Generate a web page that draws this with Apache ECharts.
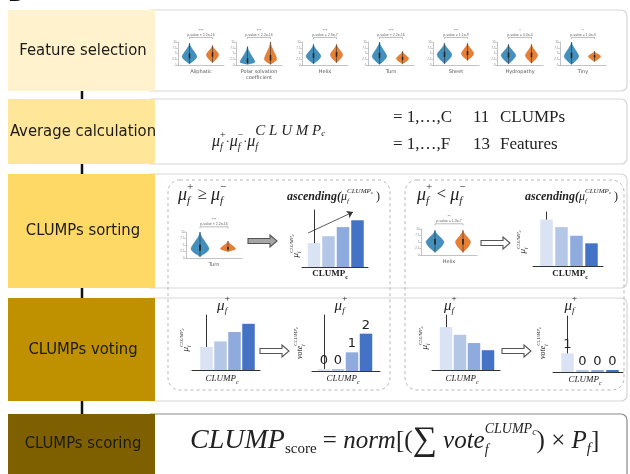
<!DOCTYPE html>
<html>
<head>
<meta charset="utf-8">
<script src="https://cdn.jsdelivr.net/npm/echarts@6.0.0/dist/echarts.min.js"></script>
<style>
  html, body { margin: 0; padding: 0; background: #fff; }
  #chart { width: 630px; height: 474px; }
</style>
</head>
<body>
<div id="chart"></div>
<script>
// ---- data ----
const steps = ['Feature selection', 'Average calculation', 'CLUMPs sorting', 'CLUMPs voting', 'CLUMPs scoring'];
const stepColors = ['#fff2cc', '#ffe699', '#ffd966', '#bf9000', '#7f6000'];

const features = ['Aliphatic', 'Polar solvation\ncoefficient', 'Helix', 'Turn', 'Sheet', 'Hydropathy', 'Tiny'];
// violin summaries [min, median, max] (positive / negative group)
const featPos = [[0.5, 3.6, 9.5], [0.3, 1.2, 8], [0.5, 3.8, 9], [0.3, 3.8, 10], [0.5, 4.5, 9.5], [0.5, 4.2, 9], [0.3, 3.8, 10]];
const featNeg = [[1, 4.5, 8.5], [0.3, 2.5, 10], [1, 4.5, 9], [0.5, 2.8, 6], [2, 5, 9.5], [0.8, 4.2, 9], [1.5, 3.8, 6]];
const featP = ['p-value < 2.2e-16', 'p-value < 2.2e-16', 'p-value = 2.3e-7', 'p-value < 2.2e-16', 'p-value = 1.1e-9', 'p-value = 4.0e-4', 'p-value = 1.0e-3'];
const featStars = ['***', '***', '***', '***', '***', '*', '*'];

const sortFeatures = ['Turn', 'Helix'];
const sortPos = [[0.5, 3.5, 10], [1, 5, 9.5]];
const sortNeg = [[2.5, 3.5, 6.5], [1, 5, 9.5]];
const sortP = ['p-value < 2.2e-16', 'p-value = 1.3e-7'];
const sortStars = ['***', '**'];

const meanUp = [2.1, 2.7, 3.5, 4.1];
const meanDown = [4.3, 3.6, 2.8, 2.1];
const voteMeanUp = [2.1, 2.6, 3.45, 4.2];
const voteMeanDown = [3.9, 3.2, 2.45, 1.8];
const votesUp = [0, 0, 1, 2];
const votesDown = [1, 0, 0, 0];
const cutUp = [1.4, 1.4];     // position of mu+ among the CLUMPs
const cutDown = [0.5, 0.4];

// ---- style ----
const SERIF = '"Liberation Serif", "DejaVu Serif", serif';
const SANS = '"DejaVu Sans", sans-serif';
const BLUES = ['#dae3f3', '#b4c7e7', '#8faadc', '#4472c4'];
const BLUE = '#4290bb', ORANGE = '#e87f33';
const RED = '#e5262a';

const mctx = document.createElement('canvas').getContext('2d');

// lays out small maths pieces: [text, size, dy, flags] (i italic, b bold, k keep x for stacking)
function mathText(x, y, parts, align) {
  const items = [];
  let cx = 0, stackW = 0;
  parts.forEach(([t, size, dy, flags = '']) => {
    const fontStyle = flags.includes('i') ? 'italic' : 'normal';
    const fontWeight = flags.includes('b') ? 'bold' : 'normal';
    mctx.font = fontStyle + ' ' + fontWeight + ' ' + size + 'px "Liberation Serif"';
    const w = mctx.measureText(t).width;
    items.push({ t, size, dy, fontStyle, fontWeight, x: cx });
    if (flags.includes('k')) stackW = Math.max(stackW, w);
    else { cx += Math.max(w, stackW); stackW = 0; }
  });
  const off = align === 'center' ? -cx / 2 : 0;
  return items.map(it => ({
    type: 'text', x: x + off + it.x, y: y + it.dy, z: 20,
    style: {
      text: it.t, fontSize: it.size, fontFamily: SERIF, fontStyle: it.fontStyle, fontWeight: it.fontWeight,
      fill: '#222', align: 'left', textAlign: 'left', verticalAlign: 'middle', textVerticalAlign: 'middle'
    }
  }));
}

function rotated(x, y, parts) {
  return { type: 'group', x, y, rotation: Math.PI / 2, z: 20, children: mathText(0, 0, parts, 'center') };
}

function hollowArrow(x0, x1, y, fill) {
  return {
    type: 'polygon', z: 20,
    shape: { points: [[x0, y - 2.5], [x1 - 7, y - 2.5], [x1 - 7, y - 6], [x1, y], [x1 - 7, y + 6], [x1 - 7, y + 2.5], [x0, y + 2.5]] },
    style: { fill, stroke: '#555', lineWidth: 1.1 }
  };
}

// ---- series builders ----
const grids = [], xAxis = [], yAxis = [], series = [];

function violinItem(params, api) {
  const cat = api.value(0);
  const c = api.coord([cat, api.value(2)]);
  const top = api.coord([cat, api.value(3)])[1];
  const bot = api.coord([cat, api.value(1)])[1];
  const w = api.size([1, 0])[0] * (cat === 0 ? 0.32 : 0.27);
  const up = c[1] - top, dn = bot - c[1];
  const prof = [[0, -up], [0.12, -up * 0.8], [0.4, -up * 0.55], [0.85, -up * 0.2], [1, 0], [0.8, dn * 0.35], [0.4, dn * 0.7], [0.1, dn * 0.92], [0, dn]];
  const pts = prof.map(p => [c[0] + p[0] * w, c[1] + p[1]])
    .concat(prof.slice(1, -1).reverse().map(p => [c[0] - p[0] * w, c[1] + p[1]]));
  return {
    type: 'group', children: [
      { type: 'polygon', shape: { points: pts, smooth: 0.35 }, style: { fill: cat === 0 ? BLUE : ORANGE, stroke: cat === 0 ? '#2d6f96' : '#b95a1c', lineWidth: 0.3 } },
      { type: 'line', shape: { x1: c[0], y1: top, x2: c[0], y2: bot }, style: { stroke: '#333', lineWidth: 0.6 } },
      { type: 'rect', shape: { x: c[0] - 0.8, y: c[1] - up * 0.25, width: 1.6, height: (up + dn) * 0.25 }, style: { fill: '#222' } }
    ]
  };
}

function bracket(label, star) {
  return (params, api) => {
    const a = api.coord([0, 12]), b = api.coord([1, 12]);
    const mx = (a[0] + b[0]) / 2;
    return {
      type: 'group', children: [
        { type: 'polyline', shape: { points: [[a[0], a[1] + 1.5], a, b, [b[0], b[1] + 1.5]] }, style: { stroke: '#777', lineWidth: 0.5, fill: null } },
        { type: 'text', x: mx, y: a[1] - 0.6, style: { text: label, fontSize: 3.5, fill: '#666', align: 'center', textAlign: 'center', verticalAlign: 'bottom', textVerticalAlign: 'bottom' } },
        { type: 'text', x: mx, y: a[1] - 5, style: { text: star, fontSize: 4, fill: '#666', align: 'center', textAlign: 'center', verticalAlign: 'bottom', textVerticalAlign: 'bottom' } }
      ]
    };
  };
}

function violinPlot(box, name, pos, neg, pText, star) {
  const g = grids.length;
  grids.push({ left: box[0], top: box[1], width: box[2], height: box[3], outerBoundsMode: 'none' });
  xAxis.push({
    gridIndex: g, type: 'category', data: ['+', '-'],
    axisLine: { lineStyle: { color: '#9a9a9a', width: 0.6 } }, axisTick: { show: false }, axisLabel: { show: false },
    name, nameLocation: 'middle', nameGap: 4,
    nameTextStyle: { fontSize: 5, color: '#555', lineHeight: 5.5, fontFamily: SANS }
  });
  yAxis.push({
    gridIndex: g, type: 'value', min: 0, max: 10, interval: 2.5,
    axisLine: { show: true, lineStyle: { color: '#9a9a9a', width: 0.6 } },
    axisTick: { show: true, length: 1.5, lineStyle: { width: 0.5 } },
    axisLabel: { fontSize: 3, color: '#888', margin: 1.5 }, splitLine: { show: false }
  });
  series.push({ type: 'custom', xAxisIndex: g, yAxisIndex: g, silent: true, renderItem: violinItem, data: [[0, ...pos], [1, ...neg]] });
  series.push({ type: 'custom', xAxisIndex: g, yAxisIndex: g, silent: true, renderItem: bracket(pText, star), data: [[0, 0]] });
}

// spec: axis x, first bar centre, spacing, right end, top, bottom
function barPlot(s) {
  const g = grids.length;
  grids.push({ left: s.ax, top: s.top, width: s.right - s.ax, height: s.bottom - s.top, outerBoundsMode: 'none' });
  xAxis.push({
    gridIndex: g, type: 'value', min: -(s.c0 - s.ax) / s.step, max: (s.right - s.c0) / s.step,
    axisLine: { onZero: false, lineStyle: { color: '#333', width: 1 } }, axisTick: { show: false }, axisLabel: { show: false }, splitLine: { show: false }
  });
  yAxis.push({
    gridIndex: g, type: 'value', min: 0, max: s.max,
    axisLine: { show: true, lineStyle: { color: '#333', width: 1 } }, axisTick: { show: false }, axisLabel: { show: false }, splitLine: { show: false }
  });
  const marks = [];
  if (s.cut != null) marks.push([{ coord: [s.cut, 0], lineStyle: { color: RED, width: 2, type: [5, 3] } }, { coord: [s.cut, s.max * 1.06] }]);
  if (s.trend) marks.push([{ coord: s.trend[0], lineStyle: { color: '#333', width: 0.8, type: 'solid' } }, { coord: s.trend[1] }]);
  series.push({
    type: 'bar', xAxisIndex: g, yAxisIndex: g, barWidth: 12.5, barMinHeight: s.labels ? 2 : 0, clip: false, silent: true,
    data: s.data.map((v, i) => ({ value: [i, v], itemStyle: { color: BLUES[i] } })),
    label: { show: !!s.labels, position: 'top', distance: 2, fontSize: 13, color: '#222', fontFamily: SANS, formatter: p => p.value[1] },
    markLine: { silent: true, symbol: ['none', 'arrow'], symbolSize: 6, label: { show: false }, animation: false, data: marks }
  });
}

// ---- build ----
const featLeft = [178, 236, 302, 368, 433, 497, 560];
features.forEach((f, i) => violinPlot([featLeft[i], 42, 46, 23], f, featPos[i], featNeg[i], featP[i], featStars[i]));
violinPlot([186, 232, 56, 26], sortFeatures[0], sortPos[0], sortNeg[0], sortP[0], sortStars[0]);
violinPlot([421, 229, 56, 26], sortFeatures[1], sortPos[1], sortNeg[1], sortP[1], sortStars[1]);

const bars = [
  { ax: 302, c0: 314, step: 14.5, right: 368, top: 210, bottom: 267, max: 5, data: meanUp, trend: [[-0.41, 2.98], [2.69, 4.82]] },
  { ax: 533, c0: 546.5, step: 15, right: 603, top: 212, bottom: 266, max: 5, data: meanDown, trend: [[0.1, 5.19], [3.23, 3.15]] },
  { ax: 192, c0: 206.5, step: 14, right: 260, top: 315, bottom: 370, max: 5, data: voteMeanUp, cut: cutUp[0] },
  { ax: 312, c0: 324, step: 14, right: 380, top: 315, bottom: 371, max: 3, data: votesUp, cut: cutUp[1], labels: true },
  { ax: 432, c0: 446, step: 14, right: 500, top: 315, bottom: 370, max: 5, data: voteMeanDown, cut: cutDown[0] },
  { ax: 553, c0: 567.5, step: 15, right: 623, top: 316, bottom: 372, max: 3, data: votesDown, cut: cutDown[1], labels: true }
];
bars.forEach(barPlot);

// ---- frame ----
const rows = [[10, 91], [99, 164], [174, 288], [298, 401], [414, 490]];
const elements = [];
elements.push({ type: 'text', x: 8, y: -14, style: { text: 'B', fontSize: 20, fontWeight: 'bold', fontFamily: SANS, fill: '#111', verticalAlign: 'top', textVerticalAlign: 'top' } });
rows.forEach(([y0, y1], i) => {
  elements.push({ type: 'rect', z: -2, shape: { x: 150, y: y0, width: 477, height: y1 - y0, r: [0, 6, 6, 0] },
    style: { fill: '#fff', stroke: i === 4 ? '#8a8a8a' : '#d6d6d6', lineWidth: 1.2 } });
  elements.push({ type: 'rect', z: -1, shape: { x: 8, y: y0, width: 147, height: y1 - y0 }, style: { fill: stepColors[i] } });
  elements.push({ type: 'text', z: 5, x: 83, y: i === 4 ? 444 : (y0 + y1) / 2,
    style: { text: steps[i], fontSize: 16.5, fontFamily: '"DejaVu Sans Condensed", "DejaVu Sans", sans-serif', fill: '#1a1a1a',
      align: 'center', textAlign: 'center', verticalAlign: 'middle', textVerticalAlign: 'middle' } });
  if (i < rows.length - 1) elements.push({ type: 'line', z: 5, shape: { x1: 82, y1: y1, x2: 82, y2: rows[i + 1][0] }, style: { stroke: '#111', lineWidth: 2.5 } });
});
// dashed groups
elements.push({ type: 'rect', z: 1, shape: { x: 168, y: 180, width: 222, height: 210, r: 12 }, style: { fill: 'none', stroke: '#b5b5b5', lineWidth: 1, lineDash: [3, 3] } });
elements.push({ type: 'rect', z: 1, shape: { x: 405, y: 180, width: 219, height: 210, r: 12 }, style: { fill: 'none', stroke: '#b5b5b5', lineWidth: 1, lineDash: [3, 3] } });

// average calculation
elements.push(...mathText(212, 142, [
  ['μ', 16, 0, 'i'], ['+', 10, -7, 'k'], ['f', 10, 5, 'i'], ['·', 12, 0],
  ['μ', 16, 0, 'i'], ['−', 10, -7, 'k'], ['f', 10, 5, 'i'], ['·', 12, 0],
  ['μ', 16, 0, 'i'], ['C L U M P', 15, -11, 'ik'], ['f', 10, 5, 'i'], ['c', 9, -8, 'i']
]));
[['= 1,…,C', '11', 'CLUMPs', 118], ['= 1,…,F', '13', 'Features', 145]].forEach(([a, b, c, y]) => {
  elements.push(...mathText(393, y, [[a, 17, 0]]), ...mathText(473, y, [[b, 17, 0]]), ...mathText(500, y, [[c, 17, 0]]));
});

// sorting
const ascParts = [['ascending(', 12, 0, 'bi'], ['μ', 12, 0, 'i'], ['CLUMP', 7, -6, 'ik'], ['f', 7, 4, 'i'], ['c', 5, -4, 'i'], [' )', 12, 0]];
elements.push(...mathText(178, 195, [['μ', 18, 0, 'i'], ['+', 11, -8, 'k'], ['f', 11, 6, 'i'], [' ≥ ', 17, 0], ['μ', 18, 0, 'i'], ['−', 11, -8, 'k'], ['f', 11, 6, 'i']]));
elements.push(...mathText(417, 195, [['μ', 18, 0, 'i'], ['+', 11, -8, 'k'], ['f', 11, 6, 'i'], [' < ', 17, 0], ['μ', 18, 0, 'i'], ['−', 11, -8, 'k'], ['f', 11, 6, 'i']]));
elements.push(...mathText(287, 197, ascParts), ...mathText(525, 197, ascParts));
elements.push(hollowArrow(248, 277, 241, '#a6a6a6'), hollowArrow(481, 510, 243, '#fff'));
elements.push(hollowArrow(260, 289, 351, '#fff'), hollowArrow(502, 531, 351, '#fff'));

// axis titles of the small bar charts
const muY = [['μ', 9, 0, 'i'], ['CLUMP', 5, -4, 'ik'], ['f', 5, 3, 'i'], ['c', 4, -3, 'i']];
const voteY = [['vote', 8, 0, 'i'], ['CLUMP', 5, -4, 'ik'], ['f', 5, 3, 'i'], ['c', 4, -3, 'i']];
elements.push(rotated(296, 246, muY), rotated(523, 242, muY), rotated(186, 340, muY), rotated(300, 343, voteY), rotated(425, 338, muY), rotated(543, 343, voteY));
elements.push(...mathText(330, 274, [['CLUMP', 9, 0, 'b'], ['c', 6, 3, 'b']], 'center'));
elements.push(...mathText(570, 274, [['CLUMP', 9, 0, 'b'], ['c', 6, 3, 'b']], 'center'));
[[222, 379], [343, 379], [462, 379], [585, 380]].forEach(([x, y]) => elements.push(...mathText(x, y, [['CLUMP', 9, 0, 'i'], ['c', 6, 3, 'i']], 'center')));
// mu+ over the cut lines
bars.filter(b => b.cut != null).forEach(b => {
  const x = b.c0 + b.cut * b.step;
  elements.push(...mathText(x - 9, 306, [['μ', 15, 0, 'i'], ['+', 9, -7, 'k'], ['f', 9, 5, 'i']]));
});

// scoring
elements.push(...mathText(190, 441, [
  ['CLUMP', 28, 0, 'i'], ['score', 15, 8], [' = ', 25, 0], ['norm', 25, 0, 'i'], ['[(', 25, 0], ['∑', 34, 0],
  [' vote', 25, 0, 'i'], ['CLUMP', 14, -12, 'ik'], ['f', 14, 9, 'i'], ['c', 10, -9, 'i'], [') × ', 25, 0],
  ['P', 25, 0, 'i'], ['f', 15, 8, 'i'], [']', 25, 0]
]));

const chart = echarts.init(document.getElementById('chart'));
chart.setOption({
  animation: false,
  backgroundColor: '#fff',
  grid: grids,
  xAxis,
  yAxis,
  series,
  graphic: { elements }
});
</script>
</body>
</html>
